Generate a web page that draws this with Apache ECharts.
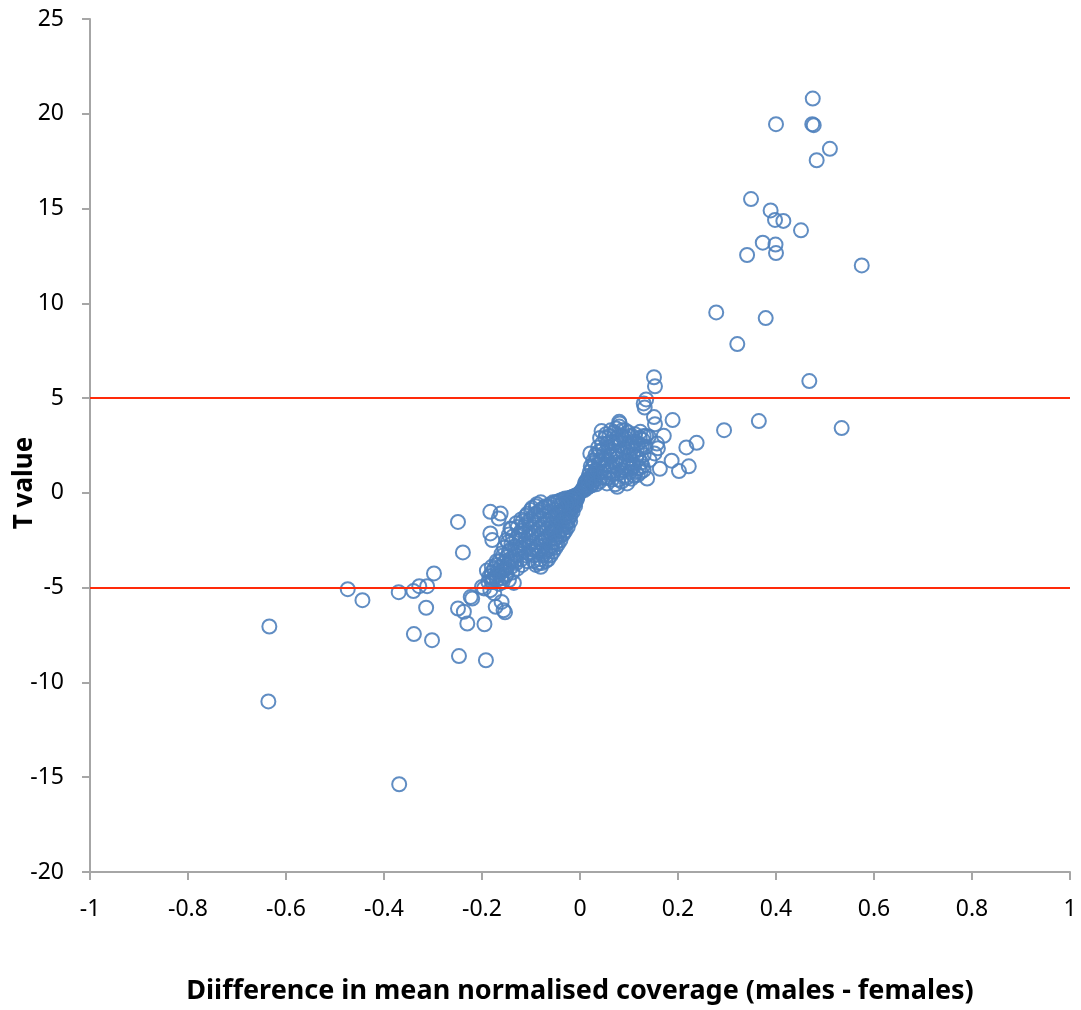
<!DOCTYPE html>
<html>
<head>
<meta charset="utf-8">
<script src="https://cdn.jsdelivr.net/npm/echarts@6/dist/echarts.min.js"></script>
<style>
  html, body { margin: 0; padding: 0; background: #ffffff; }
  #chart { width: 1081px; height: 1010px; }
</style>
</head>
<body>
<div id="chart"></div>
<script>
// Difference in mean normalised coverage (x) against T value (y), one point per region.
const highOutliers = [
  [0.475, 20.8], [0.400, 19.45], [0.474, 19.45], [0.477, 19.4], [0.510, 18.15], [0.483, 17.55],
  [0.349, 15.5], [0.389, 14.9], [0.398, 14.4], [0.415, 14.35], [0.451, 13.85], [0.373, 13.2],
  [0.399, 13.1], [0.400, 12.65], [0.341, 12.55], [0.575, 12.0], [0.278, 9.52], [0.379, 9.22],
  [0.321, 7.85], [0.468, 5.9], [0.365, 3.79], [0.294, 3.31], [0.534, 3.42], [0.238, 2.64],
  [0.217, 2.4], [0.222, 1.4], [0.202, 1.15]
];

const positiveFringe = [
  [0.151, 6.1], [0.153, 5.62], [0.135, 4.93], [0.130, 4.72], [0.132, 4.5], [0.151, 4.0],
  [0.153, 3.62], [0.189, 3.84], [0.171, 3.01], [0.157, 2.6], [0.159, 2.35], [0.152, 2.08],
  [0.187, 1.7], [0.163, 1.27], [0.137, 0.76], [0.135, 3.0], [0.140, 2.96], [0.123, 3.22],
  [0.134, 2.43], [0.142, 1.73], [0.130, 1.2], [0.044, 3.26], [0.081, 3.66], [0.080, 3.75],
  [0.021, 2.08], [0.096, 0.5], [0.076, 0.32]
];

const positiveCore = [
  [0.005, 0.15], [0.008, 0.3], [0.010, 0.5], [0.012, 0.35], [0.015, 0.7], [0.015, 0.45],
  [0.018, 0.9], [0.020, 0.6], [0.020, 1.1], [0.022, 0.8], [0.025, 1.3], [0.025, 0.5],
  [0.028, 1.0], [0.030, 1.6], [0.030, 0.7], [0.032, 1.2], [0.035, 1.9], [0.035, 0.9],
  [0.038, 1.5], [0.040, 2.2], [0.040, 0.6], [0.042, 1.1], [0.045, 1.8], [0.045, 2.6],
  [0.048, 1.3], [0.050, 0.8], [0.050, 2.1], [0.052, 2.9], [0.055, 1.5], [0.055, 0.5],
  [0.058, 2.4], [0.060, 1.1], [0.060, 3.0], [0.062, 1.9], [0.065, 2.7], [0.065, 0.7],
  [0.068, 1.4], [0.070, 2.2], [0.070, 3.2], [0.072, 0.45], [0.075, 1.8], [0.075, 2.9],
  [0.078, 1.0], [0.080, 2.5], [0.080, 3.5], [0.082, 1.5], [0.085, 3.0], [0.085, 0.6],
  [0.088, 2.1], [0.090, 1.2], [0.090, 2.8], [0.092, 3.3], [0.095, 1.7], [0.095, 0.8],
  [0.098, 2.4], [0.100, 2.0], [0.100, 3.0], [0.102, 1.1], [0.105, 2.6], [0.108, 1.5],
  [0.110, 2.2], [0.110, 0.9], [0.112, 3.1], [0.115, 1.9], [0.118, 2.6], [0.120, 1.3],
  [0.122, 2.3], [0.125, 1.6], [0.128, 2.8], [0.130, 2.0], [0.118, 0.95], [0.105, 0.75],
  [0.003, 0.1], [0.006, 0.2], [0.009, 0.15], [0.012, 0.6], [0.014, 0.25], [0.017, 0.55],
  [0.019, 0.35], [0.022, 1.4], [0.024, 0.4], [0.027, 1.7], [0.027, 0.65], [0.030, 1.0],
  [0.032, 2.0], [0.033, 0.45], [0.036, 1.2], [0.037, 2.4], [0.040, 1.7], [0.041, 2.9],
  [0.043, 0.8], [0.046, 1.5], [0.047, 2.3], [0.050, 1.1], [0.052, 1.8], [0.053, 3.1],
  [0.056, 2.6], [0.058, 0.8], [0.060, 2.2], [0.062, 1.4], [0.063, 3.3], [0.066, 2.0],
  [0.067, 1.0], [0.070, 2.6], [0.072, 1.6], [0.074, 3.4], [0.076, 2.2], [0.078, 0.7],
  [0.080, 1.9], [0.082, 2.8], [0.084, 1.2], [0.086, 3.3], [0.088, 1.6], [0.090, 2.4],
  [0.092, 0.9], [0.094, 2.9], [0.096, 1.4], [0.098, 3.2], [0.100, 1.6], [0.102, 2.5],
  [0.104, 1.3], [0.106, 3.0], [0.108, 2.0], [0.110, 1.4], [0.112, 2.7], [0.114, 1.1],
  [0.116, 2.3], [0.120, 1.8], [0.122, 2.9], [0.124, 1.1], [0.126, 2.5], [0.128, 1.4],
  [0.130, 3.0]
];

const negativeCore = [
  [-0.005, -0.1], [-0.005, -0.2], [-0.006, -0.3], [-0.010, -0.15], [-0.010, -0.3], [-0.010, -0.5],
  [-0.010, -0.7], [-0.015, -0.2], [-0.015, -0.45], [-0.015, -0.75], [-0.015, -1.0], [-0.020, -0.25],
  [-0.020, -0.6], [-0.020, -0.9], [-0.020, -1.2], [-0.020, -1.5], [-0.025, -0.3], [-0.025, -0.7],
  [-0.025, -1.1], [-0.025, -1.5], [-0.025, -1.8], [-0.030, -0.3], [-0.030, -0.8], [-0.030, -1.3],
  [-0.030, -1.7], [-0.030, -2.0], [-0.035, -0.35], [-0.035, -0.9], [-0.035, -1.4], [-0.035, -1.9],
  [-0.035, -2.2], [-0.040, -0.4], [-0.040, -1.0], [-0.040, -1.5], [-0.040, -2.0], [-0.040, -2.5],
  [-0.045, -0.45], [-0.045, -1.1], [-0.045, -1.7], [-0.045, -2.2], [-0.045, -2.7], [-0.050, -0.5],
  [-0.050, -1.2], [-0.050, -1.8], [-0.050, -2.4], [-0.050, -2.9], [-0.055, -0.5], [-0.055, -1.3],
  [-0.055, -2.0], [-0.055, -2.6], [-0.055, -3.1], [-0.060, -0.6], [-0.060, -1.4], [-0.060, -2.1],
  [-0.060, -2.8], [-0.060, -3.3], [-0.065, -0.7], [-0.065, -1.5], [-0.065, -2.3], [-0.065, -3.0],
  [-0.065, -3.5], [-0.070, -0.7], [-0.070, -1.6], [-0.070, -2.4], [-0.070, -3.1], [-0.070, -3.6],
  [-0.075, -0.8], [-0.075, -1.7], [-0.075, -2.5], [-0.075, -3.3], [-0.080, -0.5], [-0.080, -0.9],
  [-0.080, -1.8], [-0.080, -2.6], [-0.080, -3.5], [-0.080, -3.9], [-0.085, -1.0], [-0.085, -1.9],
  [-0.085, -2.8], [-0.085, -3.7], [-0.090, -0.7], [-0.090, -1.1], [-0.090, -2.0], [-0.090, -2.9],
  [-0.090, -3.8], [-0.095, -1.2], [-0.095, -2.1], [-0.095, -3.0], [-0.095, -3.6], [-0.100, -0.9],
  [-0.100, -1.4], [-0.100, -2.2], [-0.100, -3.1], [-0.105, -1.5], [-0.105, -2.3], [-0.105, -3.2],
  [-0.110, -1.2], [-0.110, -1.7], [-0.110, -2.5], [-0.110, -3.3], [-0.115, -1.8], [-0.115, -2.7],
  [-0.120, -1.4], [-0.120, -2.0], [-0.120, -2.9], [-0.120, -3.5], [-0.125, -2.2], [-0.125, -3.0],
  [-0.130, -1.6], [-0.130, -2.4], [-0.130, -3.3], [-0.140, -1.9], [-0.140, -2.7], [-0.140, -3.6],
  [-0.145, -2.2], [-0.145, -3.1], [-0.150, -2.5], [-0.150, -3.4], [-0.150, -4.0], [-0.155, -2.9],
  [-0.155, -3.7], [-0.160, -3.2], [-0.160, -4.1], [-0.160, -4.5], [-0.165, -3.6], [-0.165, -4.3],
  [-0.170, -3.8], [-0.170, -4.6], [-0.175, -4.0], [-0.180, -4.2], [-0.180, -4.7],
  [-0.003, -0.05], [-0.008, -0.4], [-0.012, -0.6], [-0.017, -0.85], [-0.018, -0.35], [-0.022, -1.3],
  [-0.023, -0.45], [-0.027, -1.6], [-0.028, -0.55], [-0.032, -1.1], [-0.033, -2.1], [-0.037, -0.6],
  [-0.038, -1.7], [-0.042, -2.3], [-0.043, -0.7], [-0.047, -1.4], [-0.048, -2.6], [-0.052, -0.9],
  [-0.053, -2.1], [-0.057, -1.6], [-0.058, -2.9], [-0.062, -1.0], [-0.063, -2.5], [-0.067, -1.9],
  [-0.068, -3.3], [-0.072, -1.2], [-0.073, -2.8], [-0.077, -2.1], [-0.078, -3.7], [-0.082, -1.4],
  [-0.083, -3.1], [-0.087, -2.4], [-0.088, -0.6], [-0.092, -1.6], [-0.093, -3.3], [-0.097, -2.6],
  [-0.098, -0.8], [-0.102, -1.9], [-0.103, -2.8], [-0.107, -1.1], [-0.108, -3.6], [-0.112, -2.1],
  [-0.113, -3.0], [-0.117, -1.5], [-0.118, -3.8], [-0.122, -2.5], [-0.123, -3.2], [-0.127, -1.8],
  [-0.128, -4.0], [-0.132, -2.8], [-0.133, -3.6], [-0.137, -2.3], [-0.138, -4.2], [-0.142, -3.0],
  [-0.143, -3.5], [-0.147, -2.6], [-0.148, -3.8], [-0.152, -4.4], [-0.157, -3.3], [-0.158, -4.7],
  [-0.162, -3.9], [-0.167, -4.1], [-0.172, -4.4], [-0.177, -4.5], [-0.182, -4.4], [-0.187, -4.7],
  [-0.190, -4.1]
];

const lowOutliers = [
  [-0.634, -7.05], [-0.636, -11.0], [-0.369, -15.37], [-0.474, -5.08], [-0.444, -5.66],
  [-0.370, -5.24], [-0.340, -5.18], [-0.328, -4.92], [-0.312, -4.92], [-0.298, -4.25],
  [-0.314, -6.06], [-0.339, -7.45], [-0.302, -7.77], [-0.247, -8.61], [-0.192, -8.83],
  [-0.249, -6.1], [-0.237, -6.27], [-0.230, -6.89], [-0.195, -6.93], [-0.220, -5.57],
  [-0.196, -5.04], [-0.183, -5.13], [-0.172, -6.01], [-0.156, -6.19], [-0.169, -4.34],
  [-0.156, -4.08], [-0.249, -1.53], [-0.239, -3.14], [-0.183, -1.0], [-0.162, -1.09],
  [-0.166, -1.35], [-0.183, -2.14], [-0.179, -2.49], [-0.142, -1.88], [-0.200, -4.96],
  [-0.223, -5.49], [-0.160, -5.75], [-0.153, -6.3], [-0.175, -5.3], [-0.178, -4.7],
  [-0.185, -4.4], [-0.180, -3.9], [-0.170, -3.6], [-0.165, -4.8], [-0.145, -4.6],
  [-0.150, -4.3], [-0.135, -4.75], [-0.140, -3.9], [-0.130, -3.7]
];

// Significance thresholds drawn as horizontal reference lines
const thresholds = [5, -5];

const xRange = { min: -1, max: 1, step: 0.2 };
const yRange = { min: -20, max: 25, step: 5 };

const points = [].concat(highOutliers, positiveFringe, positiveCore, negativeCore, lowOutliers);

const FONT = "'Noto Sans', 'Open Sans', sans-serif";
const axisGrey = '#a6a6a6';

const chart = echarts.init(document.getElementById('chart'), null, { renderer: 'canvas' });

chart.setOption({
  backgroundColor: '#ffffff',
  animation: false,
  grid: { left: 90, right: 11, top: 19, bottom: 138, containLabel: false, outerBoundsMode: 'none' },
  xAxis: {
    type: 'value',
    min: xRange.min, max: xRange.max, interval: xRange.step,
    name: 'Diifference in mean normalised coverage (males - females)',
    nameLocation: 'middle',
    nameGap: 106,
    nameTextStyle: { fontFamily: FONT, fontWeight: 'bold', fontSize: 27, color: '#000' },
    axisLine: { show: true, onZero: false, lineStyle: { color: axisGrey, width: 2 } },
    axisTick: { show: true, inside: false, length: 8, lineStyle: { color: axisGrey, width: 2 } },
    axisLabel: { fontFamily: FONT, fontSize: 23, color: '#000', margin: 26 },
    splitLine: { show: false }
  },
  yAxis: {
    type: 'value',
    min: yRange.min, max: yRange.max, interval: yRange.step,
    axisLine: { show: true, onZero: false, lineStyle: { color: axisGrey, width: 2 } },
    axisTick: { show: true, inside: false, length: 8, lineStyle: { color: axisGrey, width: 2 } },
    axisLabel: { fontFamily: FONT, fontSize: 23, color: '#000', margin: 26 },
    splitLine: { show: false }
  },
  // Vertical title for the T value axis, set slightly below the axis midpoint
  graphic: [{
    type: 'text',
    x: 25,
    y: 483,
    rotation: Math.PI / 2,
    style: {
      text: 'T value',
      fontFamily: FONT,
      fontWeight: 'bold',
      fontSize: 26,
      fill: '#000',
      align: 'center',
      verticalAlign: 'middle'
    }
  }],
  series: [{
    type: 'scatter',
    data: points,
    symbol: 'circle',
    symbolSize: 14,
    itemStyle: { color: 'rgba(0,0,0,0)', borderColor: '#4F81BD', borderWidth: 2, opacity: 0.9 },
    markLine: {
      silent: true,
      symbol: ['none', 'none'],
      label: { show: false },
      lineStyle: { color: '#FF2A0A', width: 2, type: 'solid' },
      data: thresholds.map(v => ({ yAxis: v }))
    }
  }]
});
</script>
</body>
</html>
